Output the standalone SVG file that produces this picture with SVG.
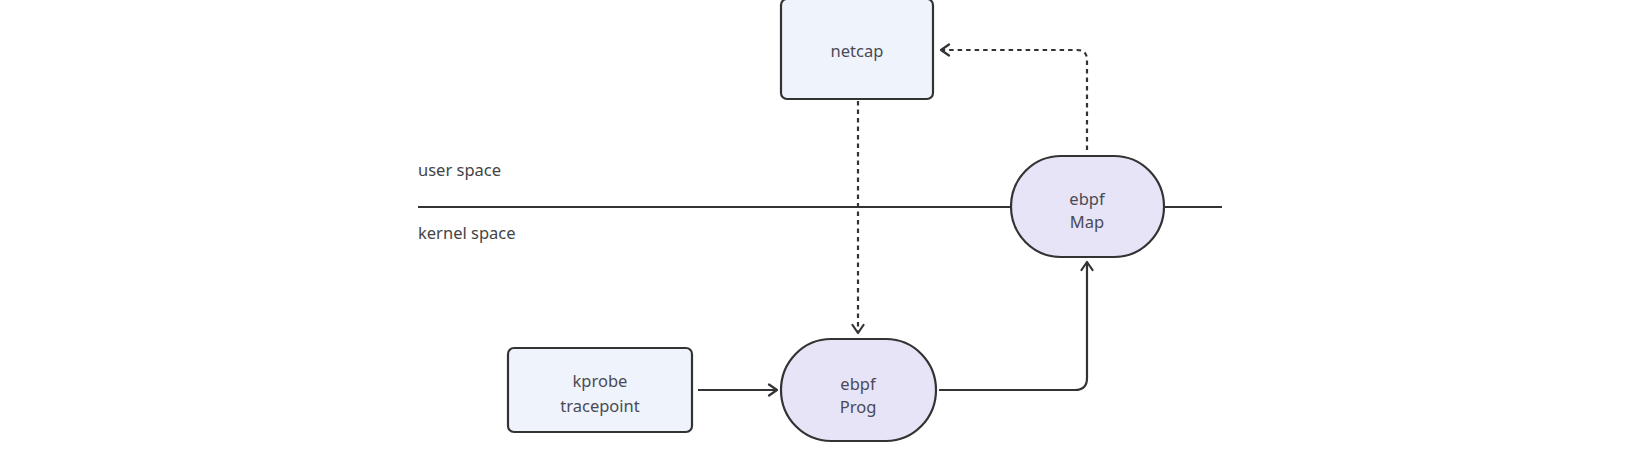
<svg xmlns="http://www.w3.org/2000/svg" width="1646" height="456" viewBox="0 0 1646 456">
<defs>
<style>
.box{fill:#eff4fc;stroke:#333;stroke-width:2.2}
.pill{fill:#e7e4f8;stroke:#333;stroke-width:2.2}
.t{font-family:"Noto Sans","DejaVu Sans",sans-serif;font-size:16.5px;fill:#4a4a55;text-anchor:middle;dominant-baseline:central}
.lbl{font-family:"Noto Sans","DejaVu Sans",sans-serif;font-size:16.5px;fill:#444;dominant-baseline:central}
.c{fill:none;stroke:#333;stroke-width:2.2}
.d{stroke-dasharray:4.5 4}
</style>
<marker id="ah" viewBox="0 0 14 14" refX="11" refY="7" markerWidth="14" markerHeight="14" markerUnits="userSpaceOnUse" orient="auto">
<path d="M3,1.5 L11,7 L3,12.5" fill="none" stroke="#333" stroke-width="2.2" stroke-linecap="round" stroke-linejoin="round"/>
</marker>
</defs>
<rect width="1646" height="456" fill="#fff"/>
<g id="divider">
<line x1="418" y1="207" x2="1222" y2="207" stroke="#333" stroke-width="2.2"/>
<text class="lbl" x="418" y="169">user space</text>
<text class="lbl" x="418" y="232">kernel space</text>
</g>
<g id="connectors">
<path class="c d" d="M858,101 V333" marker-end="url(#ah)"/>
<path class="c d" d="M1087,150 V60 Q1087,50 1077,50 H941" marker-end="url(#ah)"/>
<path class="c" d="M698,390 H777" marker-end="url(#ah)"/>
<path class="c" d="M939,390 H1075 Q1087,390 1087,378 V262" marker-end="url(#ah)"/>
</g>
<g id="netcap">
<rect class="box" x="781" y="-1" width="152" height="100" rx="6"/>
<text class="t" x="857" y="50">netcap</text>
</g>
<g id="kprobe">
<rect class="box" x="508" y="348" width="184" height="84" rx="6"/>
<text class="t" x="600" y="380">kprobe</text>
<text class="t" x="600" y="405">tracepoint</text>
</g>
<g id="prog">
<rect class="pill" x="781" y="339" width="155" height="102" rx="50" ry="51"/>
<text class="t" x="858" y="383">ebpf</text>
<text class="t" x="858" y="406">Prog</text>
</g>
<g id="map">
<rect class="pill" x="1011" y="156" width="153" height="101" rx="50" ry="50.5"/>
<text class="t" x="1087" y="198">ebpf</text>
<text class="t" x="1087" y="221">Map</text>
</g>
</svg>
